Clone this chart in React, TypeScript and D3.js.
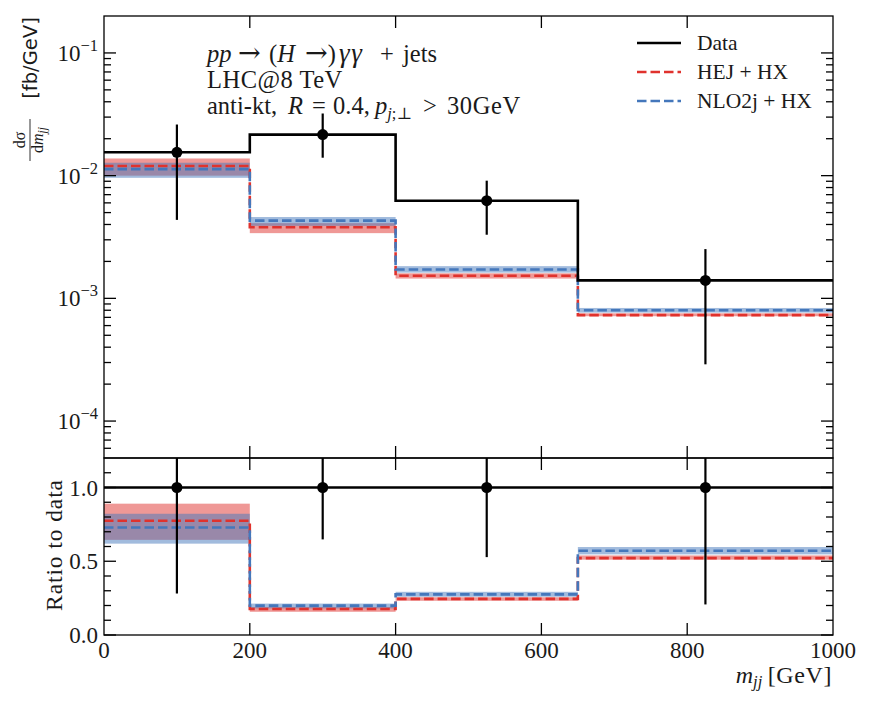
import { useEffect, useRef } from 'react';
import * as d3 from 'd3';

// m_jj bins (GeV)
const binEdges = [0, 200, 400, 650, 1000];
const binCentres = [100, 300, 525, 825];

// measured cross section, fb/GeV
const dataValues = [0.0155, 0.0216, 0.00625, 0.0014];
const dataLow = [0.00436, 0.014, 0.0033, 0.00029];
const dataHigh = [0.0261, 0.0321, 0.0091, 0.00252];

// HEJ + HX
const hejValues = [0.012, 0.0038, 0.00153, 0.00073];
const hejLow = [0.01, 0.0034, 0.00145, 0.000715];
const hejHigh = [0.0138, 0.0041, 0.0016, 0.000755];

// NLO2j + HX
const nloValues = [0.0113, 0.0043, 0.00172, 0.0008];
const nloLow = [0.0096, 0.0039, 0.00162, 0.000765];
const nloHigh = [0.01274, 0.0046, 0.00183, 0.000835];

const xTicks = [0, 200, 400, 600, 800, 1000];
const logTicks = [1e-4, 1e-3, 1e-2, 1e-1];
const ratioTicks = [0, 0.5, 1.0];

const RED = '#e0322d';
const BLUE = '#4477bb';
const INK = '#1a1a1a';
const SERIF = '"Liberation Serif", "DejaVu Serif", serif';

export default function App() {
  const svgRef = useRef<SVGSVGElement>(null);

  useEffect(() => {
    if (!svgRef.current) return;
    const svg = d3.select(svgRef.current);
    svg.selectAll('*').remove();

    const left = 104, right = 833, top = 16, mid = 458, bottom = 635;
    const major = 12, minor = 7;

    const x = d3.scaleLinear().domain([0, 1000]).range([left, right]);
    const yTop = d3.scaleLog().domain([5e-5, 0.2]).range([mid, top]);
    const yRat = d3.scaleLinear().domain([0, 1.2]).range([bottom, mid]);

    const defs = svg.append('defs');
    defs.append('clipPath').attr('id', 'clipTop')
      .append('rect').attr('x', left).attr('y', top).attr('width', right - left).attr('height', mid - top);
    defs.append('clipPath').attr('id', 'clipRat')
      .append('rect').attr('x', left).attr('y', mid).attr('width', right - left).attr('height', bottom - mid);

    const stepLine = (yScale: any) => d3.line<number[]>()
      .x(d => x(d[0]))
      .y(d => yScale(d[1]))
      .curve(d3.curveStepAfter);
    const stepPoints = (vals: number[]) =>
      binEdges.map((e, i) => [e, vals[Math.min(i, vals.length - 1)]]);

    const drawPanel = (g: any, yScale: any, series: any) => {
      // uncertainty bands
      series.models.forEach((m: any) => {
        g.selectAll(null)
          .data(m.values)
          .join('rect')
          .attr('x', (_: any, i: number) => x(binEdges[i]))
          .attr('width', (_: any, i: number) => x(binEdges[i + 1]) - x(binEdges[i]))
          .attr('y', (_: any, i: number) => yScale(m.high[i]))
          .attr('height', (_: any, i: number) => yScale(m.low[i]) - yScale(m.high[i]))
          .attr('fill', m.color)
          .attr('opacity', 0.5);
      });
      // central values
      series.models.forEach((m: any) => {
        g.append('path')
          .attr('d', stepLine(yScale)(stepPoints(m.values)))
          .attr('fill', 'none')
          .attr('stroke', m.color)
          .attr('stroke-width', 2.6)
          .attr('stroke-dasharray', '9.5 4');
      });
      // data
      g.append('path')
        .attr('d', stepLine(yScale)(stepPoints(series.data)))
        .attr('fill', 'none')
        .attr('stroke', '#000')
        .attr('stroke-width', 2.6);
      g.selectAll(null)
        .data(series.data)
        .join('line')
        .attr('x1', (_: any, i: number) => x(binCentres[i]))
        .attr('x2', (_: any, i: number) => x(binCentres[i]))
        .attr('y1', (_: any, i: number) => yScale(series.low[i]))
        .attr('y2', (_: any, i: number) => yScale(series.high[i]))
        .attr('stroke', '#000')
        .attr('stroke-width', 2.2);
      g.selectAll(null)
        .data(series.data)
        .join('circle')
        .attr('cx', (_: any, i: number) => x(binCentres[i]))
        .attr('cy', (d: number) => yScale(d))
        .attr('r', 5.5)
        .attr('fill', '#000');
    };

    // Top panel
    const gTop = svg.append('g').attr('clip-path', 'url(#clipTop)');
    drawPanel(gTop, yTop, {
      data: dataValues, low: dataLow, high: dataHigh,
      models: [
        { values: hejValues, low: hejLow, high: hejHigh, color: RED },
        { values: nloValues, low: nloLow, high: nloHigh, color: BLUE },
      ],
    });

    // Ratio panel
    const ratio = (arr: number[]) => arr.map((v, i) => v / dataValues[i]);
    const gRat = svg.append('g').attr('clip-path', 'url(#clipRat)');
    drawPanel(gRat, yRat, {
      data: ratio(dataValues), low: ratio(dataLow), high: ratio(dataHigh),
      models: [
        { values: ratio(hejValues), low: ratio(hejLow), high: ratio(hejHigh), color: RED },
        { values: ratio(nloValues), low: ratio(nloLow), high: ratio(nloHigh), color: BLUE },
      ],
    });

    // Frames
    const axes = svg.append('g').attr('stroke', '#000').attr('stroke-width', 1.3);
    [[top, mid], [mid, bottom]].forEach(([y0, y1]) => {
      axes.append('rect')
        .attr('x', left).attr('y', y0)
        .attr('width', right - left).attr('height', y1 - y0)
        .attr('fill', 'none');
    });

    // x ticks, inward on every horizontal edge
    const innerX = xTicks.filter(t => t > 0 && t < 1000);
    [[top, mid], [mid, bottom]].forEach(([y0, y1]) => {
      innerX.forEach(t => {
        axes.append('line').attr('x1', x(t)).attr('x2', x(t)).attr('y1', y0).attr('y2', y0 + major);
        axes.append('line').attr('x1', x(t)).attr('x2', x(t)).attr('y1', y1).attr('y2', y1 - major);
      });
    });

    // y ticks, top panel (log)
    const logMinor: number[] = [];
    for (let d = -5; d <= -1; d++) {
      for (let k = 2; k <= 9; k++) {
        const v = k * Math.pow(10, d);
        if (v > 5e-5 && v < 0.2) logMinor.push(v);
      }
    }
    const yTick = (yy: number, len: number) => {
      axes.append('line').attr('x1', left).attr('x2', left + len).attr('y1', yy).attr('y2', yy);
      axes.append('line').attr('x1', right).attr('x2', right - len).attr('y1', yy).attr('y2', yy);
    };
    logTicks.forEach(t => yTick(yTop(t), major));
    logMinor.forEach(t => yTick(yTop(t), minor));

    // y ticks, ratio panel
    d3.range(1, 12).map(i => i / 10)
      .filter(v => Math.abs(v - 0.5) > 1e-6 && Math.abs(v - 1) > 1e-6)
      .forEach(v => yTick(yRat(v), minor));
    ratioTicks.forEach(t => yTick(yRat(t), major));

    // Tick labels
    const labels = svg.append('g').attr('font-family', SERIF).attr('font-size', 23).attr('fill', INK);
    xTicks.forEach(t => {
      labels.append('text')
        .attr('x', x(t)).attr('y', 658)
        .attr('text-anchor', 'middle')
        .text(t);
    });
    logTicks.forEach(t => {
      const txt = labels.append('text')
        .attr('x', 98).attr('y', yTop(t) + 8)
        .attr('text-anchor', 'end');
      txt.append('tspan').text('10');
      txt.append('tspan').attr('font-size', 16.5).attr('dy', -10).text(`\u2212${Math.round(-Math.log10(t))}`);
    });
    ratioTicks.forEach(t => {
      labels.append('text')
        .attr('x', 98).attr('y', yRat(t) + 8)
        .attr('text-anchor', 'end')
        .text(d3.format('.1f')(t));
    });

    // x label
    const xl = labels.append('text')
      .attr('x', 832).attr('y', 683)
      .attr('font-size', 24)
      .attr('text-anchor', 'end');
    xl.append('tspan').attr('font-style', 'italic').text('m');
    xl.append('tspan').attr('font-style', 'italic').attr('font-size', 16.5).attr('dy', 4).text('jj');
    xl.append('tspan').attr('dy', -4).attr('letter-spacing', 0.6).text('\u2009[GeV]');

    // Ratio y label
    labels.append('text')
      .attr('transform', 'translate(62, 545) rotate(-90)')
      .attr('text-anchor', 'middle')
      .attr('font-size', 23.5)
      .attr('letter-spacing', 0.9)
      .text('Ratio to data');

    // Top y label: dσ/dm_jj [fb/GeV]
    const yl = svg.append('g').attr('transform', 'translate(30, 0) rotate(-90)');
    yl.append('text')
      .attr('x', -58).attr('y', 7)
      .attr('text-anchor', 'middle')
      .attr('font-family', '"DejaVu Sans", sans-serif')
      .attr('font-size', 19.5)
      .attr('fill', INK)
      .text('[fb/GeV]');
    yl.append('text')
      .attr('x', -140).attr('y', -5)
      .attr('text-anchor', 'middle')
      .attr('font-family', SERIF).attr('font-size', 16).attr('fill', INK)
      .text('d\u03c3');
    yl.append('line')
      .attr('x1', -161).attr('x2', -119).attr('y1', 0).attr('y2', 0)
      .attr('stroke', INK).attr('stroke-width', 0.9);
    const den = yl.append('text')
      .attr('x', -140).attr('y', 13)
      .attr('text-anchor', 'middle')
      .attr('font-family', SERIF).attr('font-size', 16).attr('fill', INK);
    den.append('tspan').text('d');
    den.append('tspan').attr('font-style', 'italic').text('m');
    den.append('tspan').attr('font-style', 'italic').attr('font-size', 11.5).attr('dy', 3).text('jj');

    // Process annotation
    const ann = svg.append('g').attr('font-family', SERIF).attr('font-size', 24.5).attr('fill', INK);
    const arrow = (t: any, ax: number) =>
      t.append('tspan').attr('x', ax).attr('font-size', 27).attr('font-family', '"DejaVu Serif", serif').text('\u2192');
    const l1 = ann.append('text').attr('y', 62);
    l1.append('tspan').attr('x', 207).attr('font-style', 'italic').text('pp');
    arrow(l1, 238);
    l1.append('tspan').attr('x', 269).text('(');
    l1.append('tspan').attr('font-style', 'italic').text('H');
    arrow(l1, 305);
    l1.append('tspan').text(')');
    l1.append('tspan').attr('x', 339).attr('font-style', 'italic').attr('font-size', 27).attr('letter-spacing', 1.5).text('\u03b3\u03b3');
    l1.append('tspan').attr('x', 380).text('+');
    l1.append('tspan').attr('x', 403).text('jets');
    ann.append('text').attr('x', 207).attr('y', 88).attr('letter-spacing', 0.5).text('LHC@8 TeV');
    const l3 = ann.append('text').attr('y', 114);
    l3.append('tspan').attr('x', 207).text('anti-kt,');
    l3.append('tspan').attr('x', 288).attr('font-style', 'italic').text('R');
    l3.append('tspan').attr('x', 312).text('=');
    l3.append('tspan').attr('x', 333).text('0.4,');
    l3.append('tspan').attr('x', 375).attr('font-style', 'italic').text('p');
    l3.append('tspan').attr('font-size', 16.5).attr('dy', 5).attr('font-style', 'italic').text('j');
    l3.append('tspan').attr('font-size', 16.5).text(';\u22a5');
    l3.append('tspan').attr('x', 423).attr('dy', -5).text('>');
    l3.append('tspan').attr('x', 447).attr('letter-spacing', 0.6).text('30GeV');

    // Legend
    const legendItems = [
      { label: 'Data', color: '#000', dash: null },
      { label: 'HEJ + HX', color: RED, dash: '9.5 4' },
      { label: 'NLO2j + HX', color: BLUE, dash: '9.5 4' },
    ];
    const leg = svg.append('g');
    legendItems.forEach((item, i) => {
      const yy = 43 + i * 29;
      leg.append('line')
        .attr('x1', 637).attr('x2', 681).attr('y1', yy).attr('y2', yy)
        .attr('stroke', item.color).attr('stroke-width', 2.6)
        .attr('stroke-dasharray', item.dash);
      leg.append('text')
        .attr('x', 697).attr('y', yy + 7)
        .attr('font-family', SERIF).attr('font-size', 21.5).attr('fill', INK)
        .text(item.label);
    });
  }, []);

  return (
    <svg
      ref={svgRef}
      width={872}
      height={708}
      style={{ position: 'absolute', left: 0, top: 0, background: '#fff' }}
    />
  );
}
